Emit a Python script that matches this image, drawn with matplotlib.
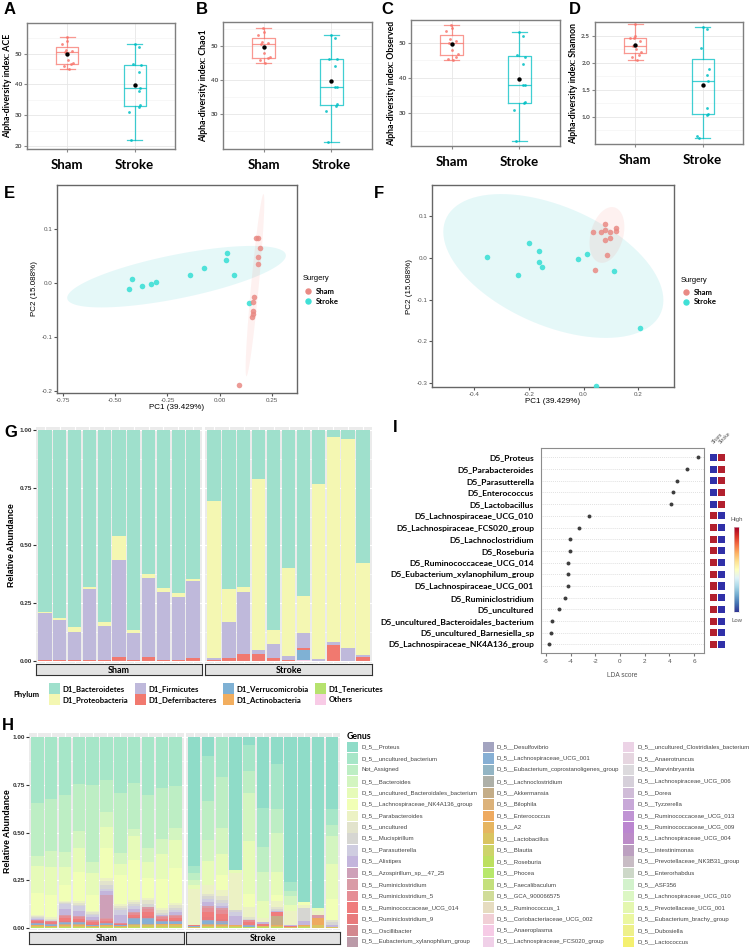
import numpy as np
import matplotlib
matplotlib.use("Agg")
import matplotlib.pyplot as plt
from matplotlib.patches import Polygon, Rectangle

# ---------------------------------------------------------------- data
groups = ["Sham", "Stroke"]

ace_sham = [45.0, 46.0, 46.5, 47.0, 48.0, 50.5, 51.0, 51.2, 53.3, 54.2, 55.3]
ace_stroke = [22.0, 31.0, 32.8, 33.2, 38.0, 39.0, 44.0, 46.2, 46.6, 52.1, 53.2]
chao_sham = [45.0, 45.8, 46.3, 46.8, 48.0, 50.4, 50.7, 51.0, 53.2, 54.1, 55.2]
chao_stroke = [21.8, 31.0, 32.4, 32.9, 38.1, 38.1, 44.1, 46.0, 46.0, 52.1, 53.2]
obs_sham = [45.0, 45.5, 46.0, 46.8, 48.0, 50.0, 50.5, 51.0, 53.2, 54.0, 55.0]
obs_stroke = [22.3, 31.0, 32.8, 33.2, 38.0, 38.0, 44.0, 46.0, 46.5, 52.0, 53.0]
shan_sham = [2.05, 2.10, 2.15, 2.20, 2.25, 2.30, 2.40, 2.45, 2.45, 2.50, 2.71]
shan_stroke = [0.61, 0.64, 1.04, 1.05, 1.16, 1.67, 1.78, 1.88, 2.27, 2.62, 2.66]

# PCoA coordinates (panel E)
e_sham_pc1 = [0.175, 0.183, 0.194, 0.181, 0.181, 0.165, 0.160, 0.160, 0.160, 0.155, 0.093]
e_sham_pc2 = [0.083, 0.083, 0.064, 0.047, 0.035, -0.026, -0.036, -0.053, -0.058, -0.064, -0.189]
e_stroke_pc1 = [-0.433, -0.420, -0.370, -0.330, -0.306, -0.140, -0.077, 0.030, 0.034, 0.070, 0.138]
e_stroke_pc2 = [-0.011, 0.007, -0.006, -0.002, 0.002, 0.014, 0.028, 0.043, 0.055, 0.015, -0.038]
# panel F
f_sham_pc1 = [0.036, 0.062, 0.079, 0.079, 0.097, 0.118, 0.117, 0.080, 0.098, 0.086, 0.041]
f_sham_pc2 = [0.061, 0.061, 0.081, 0.067, 0.061, 0.072, 0.064, 0.043, 0.048, 0.006, -0.029]
f_stroke_pc1 = [-0.354, -0.240, -0.200, -0.162, -0.164, -0.151, -0.020, 0.011, 0.110, 0.205, 0.046]
f_stroke_pc2 = [0.001, -0.042, 0.035, 0.017, -0.011, -0.023, -0.003, 0.008, -0.032, -0.169, -0.307]

# Phylum relative abundance (panel G): 11 Sham then 11 Stroke samples
phyla = ["D1_Bacteroidetes", "D1_Proteobacteria", "D1_Firmicutes", "D1_Deferribacteres",
         "D1_Verrucomicrobia", "D1_Actinobacteria", "D1_Tenericutes", "Others"]
bacteroidetes = [0.788, 0.816, 0.855, 0.679, 0.831, 0.460, 0.867, 0.626, 0.686, 0.708, 0.646,
                 0.306, 0.689, 0.679, 0.212, 0.867, 0.600, 0.720, 0.236, 0.029, 0.040, 0.578]
proteobacteria = [0.007, 0.008, 0.019, 0.012, 0.017, 0.104, 0.015, 0.014, 0.015, 0.015, 0.009,
                  0.681, 0.145, 0.022, 0.742, 0.062, 0.380, 0.162, 0.757, 0.892, 0.907, 0.397]
firmicutes = [0.200, 0.174, 0.122, 0.306, 0.149, 0.419, 0.114, 0.345, 0.295, 0.275, 0.333,
              0.010, 0.153, 0.272, 0.016, 0.058, 0.017, 0.061, 0.007, 0.011, 0.053, 0.010]
deferribacteres = [0.005, 0.002, 0.004, 0.003, 0.003, 0.017, 0.004, 0.015, 0.004, 0.002, 0.012,
                   0.003, 0.013, 0.027, 0.030, 0.013, 0.003, 0.012, 0.000, 0.068, 0.000, 0.015]
verrucomicrobia = [0, 0, 0, 0, 0, 0, 0, 0, 0, 0, 0,
                   0, 0, 0, 0, 0, 0, 0.040, 0, 0, 0, 0]
actinobacteria = [0.0] * 22
tenericutes = [0.0] * 22
others = [0, 0, 0, 0, 0, 0, 0, 0, 0, 0, 0,
          0, 0, 0, 0, 0, 0, 0.005, 0, 0, 0, 0]

# LEfSe (panel I)
lda_taxa = ["D5_Proteus", "D5_Parabacteroides", "D5_Parasutterella", "D5_Enterococcus",
            "D5_Lactobacillus", "D5_Lachnospiraceae_UCG_010", "D5_Lachnospiraceae_FCS020_group",
            "D5_Lachnoclostridium", "D5_Roseburia", "D5_Ruminococcaceae_UCG_014",
            "D5_Eubacterium_xylanophilum_group", "D5_Lachnospiraceae_UCG_001",
            "D5_Ruminiclostridium", "D5_uncultured", "D5_uncultured_Bacteroidales_bacterium",
            "D5_uncultured_Barnesiella_sp", "D5_Lachnospiraceae_NK4A136_group"]
lda_scores = [6.35, 5.46, 4.65, 4.27, 4.16, -2.49, -3.35, -4.03, -4.06, -4.19, -4.19,
              -4.24, -4.46, -4.97, -5.51, -5.57, -5.73]

# Genus relative abundance (panel H)
genera = ["Proteus", "uncultured_bacterium", "Not_Assigned", "Bacteroides",
          "uncultured_Bacteroidales_bacterium", "Lachnospiraceae_NK4A136_group", "Parabacteroides",
          "uncultured", "Mucispirillum", "Parasutterella", "Alistipes", "Azospirillum_sp__47_25",
          "Ruminiclostridium", "Ruminiclostridium_5", "Ruminococcaceae_UCG_014", "Ruminiclostridium_9",
          "Oscillibacter", "Eubacterium_xylanophilum_group",
          "Desulfovibrio", "Lachnospiraceae_UCG_001", "Eubacterium_coprostanoligenes_group",
          "Lachnoclostridium", "Akkermansia", "Bilophila", "Enterococcus", "A2", "Lactobacillus",
          "Blautia", "Roseburia", "Phocea", "Faecalibaculum", "GCA_900066575", "Ruminococcus_1",
          "Coriobacteriaceae_UCG_002", "Anaeroplasma", "Lachnospiraceae_FCS020_group",
          "uncultured_Clostridiales_bacterium", "Anaerotruncus", "Marvinbryantia",
          "Lachnospiraceae_UCG_006", "Dorea", "Tyzzerella", "Ruminococcaceae_UCG_013",
          "Ruminococcaceae_UCG_009", "Lachnospiraceae_UCG_004", "Intestinimonas",
          "Prevotellaceae_NK3B31_group", "Enterorhabdus", "ASF356", "Lachnospiraceae_UCG_010",
          "Prevotellaceae_UCG_001", "Eubacterium_brachy_group", "Dubosiella", "Lactococcus"]

g_proteus = [0] * 11 + [0.677, 0.101, 0.0, 0.695, 0.040, 0.372, 0.141, 0.759, 0.860, 0.892, 0.377]
g_uncult_bacterium = [0.346, 0.325, 0.302, 0.246, 0.250, 0.223, 0.293, 0.241, 0.302, 0.267, 0.255,
                      0.035, 0.232, 0.211, 0.0, 0.136, 0.206, 0.236, 0.046, 0.0, 0.0, 0.082]
g_not_assigned = [0.275, 0.274, 0.302, 0.244, 0.406, 0.170, 0.314, 0.241, 0.279, 0.267, 0.221,
                  0.035, 0.205, 0.265, 0.0, 0.117, 0.131, 0.126, 0.029, 0.0, 0.0, 0.056]
g_bacteroides = [0.053, 0.083, 0.078, 0.091, 0.053, 0.078, 0.060, 0.038, 0.075, 0.079, 0.062,
                 0.026, 0.113, 0.137, 0.0, 0.250, 0.148, 0.204, 0.044, 0.0, 0.0, 0.150]
g_uncult_bacteroidales = [0.143, 0.143, 0.090, 0.128, 0.116, 0.110, 0.054, 0.122, 0.082, 0.130, 0.148,
                          0.023, 0.122, 0.111, 0.017, 0.277, 0.091, 0.118, 0.035, 0.0, 0.017, 0.183]
g_nk4a136 = [0.113, 0.119, 0.088, 0.148, 0.084, 0.157, 0.152, 0.213, 0.105, 0.152, 0.183,
             0.0, 0.0, 0.079, 0.0, 0.067, 0.0, 0.035, 0.0, 0.017, 0.0, 0.108]
g_parabacteroides = [0.008, 0.008, 0.006, 0.012, 0.008, 0.017, 0.012, 0.009, 0.012, 0.012, 0.012,
                     0.187, 0.047, 0.031, 0.192, 0.052, 0.023, 0.030, 0.073, 0.017, 0.021, 0.0]
g_uncultured = [0.006, 0.006, 0.005, 0.010, 0.008, 0.020, 0.010, 0.012, 0.020, 0.013, 0.013,
                0, 0.013, 0.018, 0, 0.010, 0, 0.010, 0, 0, 0, 0.013]
g_mucispirillum = [0.004, 0.004, 0.003, 0.008, 0.005, 0.020, 0.009, 0.011, 0.015, 0.010, 0.010,
                   0, 0.013, 0.017, 0.010, 0.007, 0, 0.009, 0, 0.070, 0, 0.013]
g_parasutterella = [0.004, 0.0, 0.024, 0.022, 0.010, 0.012, 0.030, 0.012, 0.0, 0.004, 0.010,
                    0, 0.020, 0.013, 0.025, 0, 0, 0, 0, 0, 0, 0]
g_alistipes = [0.004, 0.0, 0.035, 0.030, 0.016, 0.018, 0.037, 0.018, 0.0, 0.005, 0.016,
               0, 0.021, 0.013, 0.044, 0, 0.010, 0.009, 0.004, 0.017, 0, 0.010]
g_azospirillum = [0, 0, 0, 0, 0, 0.122, 0, 0, 0, 0, 0,
                  0, 0, 0, 0, 0, 0, 0, 0, 0, 0, 0]
g_ruminiclostridium = [0.003, 0.003, 0.005, 0.004, 0.004, 0.006, 0.002, 0.005, 0.008, 0.004, 0.005,
                       0, 0.010, 0.010, 0, 0, 0, 0, 0, 0, 0.014, 0]
g_ruminiclostridium_5 = [0.005, 0.005, 0.010, 0.009, 0.007, 0.007, 0.003, 0.009, 0.017, 0.007, 0.010,
                         0, 0.020, 0.020, 0, 0.012, 0, 0, 0, 0, 0, 0]
g_rumino_ucg014 = [0.006, 0.006, 0.014, 0.010, 0.009, 0.008, 0.004, 0.010, 0.020, 0.009, 0.012,
                   0.006, 0.025, 0.025, 0, 0.014, 0.011, 0.021, 0.006, 0, 0, 0]
g_ruminiclostridium_9 = [0.004, 0.004, 0.008, 0.008, 0.006, 0.005, 0.003, 0.007, 0.013, 0.006, 0.008,
                         0, 0.015, 0.015, 0, 0, 0, 0, 0, 0, 0, 0]
g_lachno_ucg001 = [0.005, 0.004, 0.006, 0.006, 0.003, 0.005, 0.003, 0.026, 0.026, 0.007, 0.007,
                   0.004, 0.012, 0.010, 0, 0.005, 0, 0, 0, 0, 0, 0]
g_desulfovibrio = [0.004, 0.003, 0.004, 0.004, 0.002, 0.004, 0.002, 0.005, 0.005, 0.005, 0.005,
                   0, 0.008, 0.006, 0, 0.004, 0, 0, 0, 0, 0, 0]
g_akkermansia = [0.003, 0.002, 0.003, 0.003, 0.002, 0.003, 0.002, 0.003, 0.003, 0.004, 0.004,
                 0, 0.006, 0.005, 0, 0, 0, 0.044, 0, 0, 0, 0]
g_enterococcus = [0.004, 0.003, 0.004, 0.004, 0.002, 0.003, 0.002, 0.004, 0.004, 0.005, 0.005,
                  0, 0.005, 0.004, 0.006, 0, 0, 0.005, 0, 0.006, 0.038, 0]
g_lactobacillus = [0.005, 0.004, 0.007, 0.006, 0.004, 0.005, 0.004, 0.007, 0.007, 0.007, 0.007,
                   0.004, 0.007, 0.005, 0.006, 0.004, 0.005, 0.006, 0.004, 0.006, 0.017, 0.007]
g_roseburia = [0.005, 0.004, 0.006, 0.007, 0.004, 0.006, 0.004, 0.007, 0.007, 0.007, 0.007,
               0.003, 0.006, 0.005, 0.005, 0.004, 0.004, 0.006, 0, 0.006, 0, 0]

genus_colors = ["#8fdcc8", "#a6e6c8", "#bdeec4", "#d3f5c0", "#e6fbb8", "#f1ffb6", "#ecf2c4",
                "#e2e3cc", "#d6d6d2", "#cfcde0", "#c3b5dc", "#cea0b8", "#d99ba6", "#e58d95",
                "#ef7c7c", "#e87a7c", "#d3888f", "#bb9aa8",
                "#a3a4c0", "#86afd4", "#93b5c4", "#aeb0a8", "#c4ad88", "#dcb27a", "#eeaa60",
                "#e6b560", "#d9c460", "#cdd46a", "#bde060", "#b8e86c", "#c4e07c", "#d0dc98",
                "#e6dcc0", "#f1cfd6", "#f6cbe6", "#f0d0e8",
                "#ecd3e6", "#e6d6e0", "#dcdadd", "#d6d0da", "#d0bcd8", "#c8a8d8", "#c094d4",
                "#bb86d0", "#bc8cc8", "#bca0c0", "#c8bcc4", "#cdd8c8", "#d3f2cc", "#dcf7c4",
                "#e4f7b0", "#ebf7a0", "#eef08a", "#f4f070"]

phylum_colors = ["#9fe0cc", "#f4f7b2", "#bfb9db", "#f1796f", "#7fb1d4", "#f2ae5f", "#b6e26e", "#f8cbe6"]

# ---------------------------------------------------------------- helpers
W, H = 750, 947
fig = plt.figure(figsize=(7.5, 9.47), dpi=100)
SANS = ["Liberation Sans", "DejaVu Sans"]
BOLD = ["Lato", "DejaVu Sans"]
C_SHAM, C_STROKE = "#F8766D", "#00BFC4"


def px_axes(l, t, r, b):
    return fig.add_axes([l / W, 1 - b / H, (r - l) / W, (b - t) / H])


def ftext(x, y, s, **kw):
    fig.text(x / W, 1 - y / H, s, **kw)


def letter(x, y, s):
    ftext(x, y, s, fontsize=12, fontweight="bold", family=SANS, va="top", ha="left")


# ---------------------------------------------------------------- A-D
jit_a = [0.02, -0.05, 0.06, 0.09, 0.01, -0.04, 0.07, -0.02, -0.08, 0.0, -0.01]
jit_b = [-0.05, -0.08, 0.07, 0.08, 0.06, 0.08, 0.06, 0.09, -0.03, 0.06, 0.0]


def alpha_panel(box, sham, stroke, ylabel, ylim, yticks, ytl, minor):
    ax = px_axes(*box)
    ax.set_xlim(0.4, 2.6)
    ax.set_ylim(*ylim)
    ax.set_yticks(yticks)
    ax.set_yticks(minor, minor=True)
    ax.set_yticklabels(ytl, fontsize=4.6, fontweight="bold", color="#4d4d4d", family=BOLD)
    ax.set_xticks([1, 2])
    ax.set_xticklabels(groups, fontsize=9.5, fontweight="bold", family=BOLD)
    ax.tick_params(axis="x", length=2, color="#888888", pad=5)
    ax.tick_params(axis="y", length=2, color="#888888", pad=1.5)
    ax.tick_params(axis="y", which="minor", length=0)
    ax.grid(True, which="major", color="#e6e6e6", lw=0.6)
    ax.grid(True, which="minor", axis="y", color="#f2f2f2", lw=0.4)
    ax.set_axisbelow(True)
    for s in ax.spines.values():
        s.set_color("#7f7f7f")
        s.set_linewidth(1.0)
    for i, (vals, col, jit) in enumerate([(sham, C_SHAM, jit_a), (stroke, C_STROKE, jit_b)]):
        props = dict(color=col, lw=0.9, alpha=0.75)
        ax.boxplot(vals, positions=[i + 1], widths=0.33, whis=1.5, showfliers=False,
                   manage_ticks=False, boxprops=props, whiskerprops=props,
                   capprops=props, medianprops=props, capwidths=0.22)
        ax.scatter(np.full(len(vals), i + 1.0) + np.array(jit), vals, s=4, color=col,
                   alpha=0.85, lw=0, zorder=3)
        ax.scatter([i + 1], [np.mean(vals)], s=10, color="black", lw=0, zorder=4)
    ax.set_ylabel(ylabel, fontsize=6.3, fontweight="bold", family=BOLD, labelpad=2)
    return ax


alpha_panel((27, 23, 175, 149), ace_sham, ace_stroke, "Alpha-diversity index: ACE",
            (19.0, 60.0), [20, 30, 40, 50], ["20", "30", "40", "50"], [25, 35, 45, 55])
alpha_panel((223, 22, 372, 149), chao_sham, chao_stroke, "Alpha-diversity index: Chao1",
            (19.9, 56.9), [30, 40, 50], ["30", "40", "50"], [25, 35, 45, 55])
alpha_panel((411, 20, 560, 146), obs_sham, obs_stroke, "Alpha-diversity index: Observed",
            (20.75, 56.4), [30, 40, 50], ["30", "40", "50"], [25, 35, 45, 55])
alpha_panel((595, 22, 743, 144), shan_sham, shan_stroke, "Alpha-diversity index: Shannon",
            (0.50, 2.75), [1.0, 1.5, 2.0, 2.5], ["1.0", "1.5", "2.0", "2.5"], [0.75, 1.25, 1.75, 2.25])
letter(4, 2, "A")
letter(196, 2, "B")
letter(381, 2, "C")
letter(569, 2, "D")


# ---------------------------------------------------------------- E, F
def cov_trob(X, nu=5, maxit=25, tol=0.01):
    n, p = X.shape
    loc = X.mean(0)
    w = np.ones(n)
    Xc = X - loc
    for _ in range(maxit):
        w0 = w
        Xc = X - loc
        _, d, vt = np.linalg.svd(np.sqrt(w / w.sum())[:, None] * Xc, full_matrices=False)
        wX = Xc @ vt.T @ np.diag(1 / d)
        Q = (wX ** 2).sum(1)
        w = (nu + p) / (nu + Q)
        loc = (w[:, None] * X).sum(0) / w.sum()
        if np.all(np.abs(w - w0) < tol):
            break
    cov = (np.sqrt(w)[:, None] * Xc).T @ (np.sqrt(w)[:, None] * Xc) / n
    return loc, cov


def ellipse_pts(x, y, fq=4.102821):
    X = np.column_stack([x, y])
    loc, cov = cov_trob(X)
    L = np.linalg.cholesky(cov)
    r = np.sqrt(2 * fq)
    a = np.linspace(0, 2 * np.pi, 101)
    uc = np.column_stack([np.cos(a), np.sin(a)])
    return loc + r * uc @ L.T


def pca_panel(box, sx, sy, tx, ty, xlim, ylim, xticks, xtl, yticks, ytl, leg):
    ax = px_axes(*box)
    ax.set_xlim(*xlim)
    ax.set_ylim(*ylim)
    for (x, y, c) in [(tx, ty, C_STROKE), (sx, sy, C_SHAM)]:
        ax.add_patch(Polygon(ellipse_pts(x, y), closed=True, facecolor=c, alpha=0.1, lw=0))
    ax.scatter(tx, ty, s=16, color="#3fe0d6", alpha=0.9, lw=0, zorder=3)
    ax.scatter(sx, sy, s=16, color="#e98a84", alpha=0.85, lw=0, zorder=3)
    ax.set_xticks(xticks)
    ax.set_xticklabels(xtl, fontsize=4.5, color="#555555", family=SANS)
    ax.set_yticks(yticks)
    ax.set_yticklabels(ytl, fontsize=4.5, color="#555555", family=SANS)
    ax.tick_params(length=2, color="#555555", pad=1.5)
    for s in ax.spines.values():
        s.set_color("#666666")
        s.set_linewidth(1.0)
    ax.set_xlabel("PC1 (39.429%)", fontsize=5.8, family=SANS, labelpad=1)
    ax.set_ylabel("PC2 (15.088%)", fontsize=5.8, family=SANS, labelpad=2)
    lx, ly = leg
    ftext(lx, ly, "Surgery", fontsize=5.5, family=SANS, va="center")
    for k, (g, c) in enumerate([("Sham", "#e98a84"), ("Stroke", "#3fe0d6")]):
        yy = ly + 12.5 + k * 9.5
        fig.add_artist(plt.Line2D([(lx + 5) / W], [1 - yy / H], marker="o", ms=3.6,
                                  color=c, lw=0, transform=fig.transFigure))
        ftext(lx + 13, yy, g, fontsize=5.6, fontweight="bold", family=BOLD, va="center")


pca_panel((57, 185, 297, 393), e_sham_pc1, e_sham_pc2, e_stroke_pc1, e_stroke_pc2,
          (-0.779, 0.37), (-0.204, 0.181), [-0.75, -0.5, -0.25, 0.0, 0.25],
          ["-0.75", "-0.50", "-0.25", "0.00", "0.25"], [-0.2, -0.1, 0.0, 0.1],
          ["-0.2", "-0.1", "0.0", "0.1"], (303, 279))
pca_panel((432, 185, 674, 387), f_sham_pc1, f_sham_pc2, f_stroke_pc1, f_stroke_pc2,
          (-0.553, 0.33), (-0.309, 0.174), [-0.4, -0.2, 0.0, 0.2],
          ["-0.4", "-0.2", "0.0", "0.2"], [-0.3, -0.2, -0.1, 0.0, 0.1],
          ["-0.3", "-0.2", "-0.1", "0.0", "0.1"], (681, 280))
letter(4, 186, "E")
letter(374, 186, "F")


# ---------------------------------------------------------------- stacked bars helper
def facet_bars(boxes, strip_y, series, colors, ylim):
    n = 11
    for gi, (box, gname) in enumerate(zip(boxes, groups)):
        ax = px_axes(*box)
        ax.set_facecolor("#ebebeb")
        ax.set_xlim(0.4, n + 0.6)
        ax.set_ylim(*ylim)
        ax.set_yticks([0, 0.25, 0.5, 0.75, 1.0])
        ax.set_yticks([0.125, 0.375, 0.625, 0.875], minor=True)
        ax.grid(True, which="major", color="white", lw=0.8)
        ax.grid(True, which="minor", axis="y", color="white", lw=0.4)
        ax.set_axisbelow(True)
        ax.set_xticks(np.arange(1, n + 1))
        ax.set_xticklabels([])
        ax.tick_params(axis="x", length=0)
        for s in ax.spines.values():
            s.set_visible(False)
        idx = slice(gi * n, (gi + 1) * n)
        mat = np.array([np.asarray(v, float)[idx] for v in series])
        mat = mat / mat.sum(0, keepdims=True)
        bottom = np.zeros(n)
        xs = np.arange(1, n + 1)
        for k in range(len(series) - 1, -1, -1):
            if mat[k].sum() == 0:
                continue
            ax.bar(xs, mat[k], bottom=bottom, width=0.9, color=colors[k], lw=0)
            bottom += mat[k]
        if gi == 0:
            ax.set_yticklabels(["0.00", "0.25", "0.50", "0.75", "1.00"], fontsize=4.6,
                               fontweight="bold", family=SANS, color="#333333")
            ax.tick_params(axis="y", length=2, color="#333333", pad=1)
            ax.tick_params(axis="y", which="minor", length=0)
        else:
            ax.set_yticklabels([])
            ax.tick_params(axis="y", length=0, which="both")
        sy0, sy1 = strip_y
        sax = px_axes(box[0], sy0, box[2], sy1)
        sax.set_xlim(0, 1)
        sax.set_ylim(0, 1)
        sax.set_xticks([])
        sax.set_yticks([])
        sax.set_facecolor("#e3e3e3")
        for s in sax.spines.values():
            s.set_color("#333333")
            s.set_linewidth(0.8)
        sax.text(0.5, 0.45, gname, ha="center", va="center", fontsize=6.5,
                 fontweight="bold", family=BOLD)


# ---------------------------------------------------------------- G
phylum_series = [bacteroidetes, proteobacteria, firmicutes, deferribacteres,
                 verrucomicrobia, actinobacteria, tenericutes, others]
facet_bars([(36, 427, 202, 663), (205, 427, 372, 663)], (664, 675), phylum_series,
           phylum_colors, (-0.01, 1.013))
ftext(12, 545, "Relative Abundance", rotation=90, fontsize=6.3, fontweight="bold",
      family=SANS, ha="center", va="center")
letter(4, 425, "G")

ftext(13, 694, "Phylum", fontsize=5.6, fontweight="bold", family=BOLD, va="center")
col_x = [49, 135, 223, 315]
for k, (name, c) in enumerate(zip(phyla, phylum_colors)):
    col, row = k // 2, k % 2
    x0 = col_x[col]
    y0 = 683 + row * 11
    fig.add_artist(Rectangle((x0 / W, 1 - (y0 + 10.5) / H), 11 / W, 10.5 / H,
                             transform=fig.transFigure, facecolor=c, lw=0))
    ftext(x0 + 13.5, y0 + 5.3, name, fontsize=5.6, fontweight="bold", family=BOLD, va="center")

# ---------------------------------------------------------------- I
ax = px_axes(541, 448, 704, 653)
ny = len(lda_scores)
yy = np.arange(ny)
ax.set_ylim(ny - 0.27, -0.8)
ax.set_xlim(-6.4, 6.8)
for v in yy:
    ax.axhline(v, color="#cfcfcf", lw=0.5, ls=(0, (1.2, 1.6)), zorder=1)
ax.scatter(lda_scores, yy, s=8, color="#3d3d3d", lw=0, zorder=3)
ax.set_yticks(yy)
ax.set_yticklabels(lda_taxa, fontsize=6.1, fontweight="bold", family=BOLD)
ax.tick_params(axis="y", length=0, pad=5)
ax.set_xticks([-6, -4, -2, 0, 2, 4, 6])
ax.set_xticklabels(["-6", "-4", "-2", "0", "2", "4", "6"], fontsize=4.6, color="#555555", family=SANS)
ax.tick_params(axis="x", length=2, color="#777777", pad=2)
for s in ax.spines.values():
    s.set_color("#8c8c8c")
    s.set_linewidth(0.8)
ax.set_xlabel("LDA score", fontsize=4.8, color="#555555", family=SANS, labelpad=6)

hax = px_axes(709, 448, 726, 653)
hax.set_ylim(ny - 0.27, -0.8)
hax.set_xlim(0, 2)
hax.axis("off")
hi_c, lo_c = "#b2202e", "#3030a8"
for i, sc in enumerate(lda_scores):
    cols = [lo_c, hi_c] if sc > 0 else [hi_c, lo_c]
    for j in range(2):
        hax.add_patch(Rectangle((j + 0.06, i - 0.3), 0.88, 0.6, facecolor=cols[j], lw=0))
ftext(711, 445, "Sham", rotation=45, fontsize=3.6, color="#555555", family=SANS, ha="left", va="bottom")
ftext(718, 445, "Stroke", rotation=45, fontsize=3.6, color="#555555", family=SANS, ha="left", va="bottom")

cax = px_axes(734, 527, 739, 612)
cax.imshow(np.linspace(1, 0, 200)[:, None], cmap="RdYlBu_r", aspect="auto")
cax.set_xticks([])
cax.set_yticks([])
for s in cax.spines.values():
    s.set_color("#dddddd")
    s.set_linewidth(0.4)
ftext(737, 519, "High", fontsize=4.3, color="#555555", family=SANS, ha="center", va="center")
ftext(737, 621, "Low", fontsize=4.3, color="#555555", family=SANS, ha="center", va="center")
letter(393, 420, "I")

# ---------------------------------------------------------------- H
genus_values = {
    "Proteus": g_proteus, "uncultured_bacterium": g_uncult_bacterium,
    "Not_Assigned": g_not_assigned, "Bacteroides": g_bacteroides,
    "uncultured_Bacteroidales_bacterium": g_uncult_bacteroidales,
    "Lachnospiraceae_NK4A136_group": g_nk4a136, "Parabacteroides": g_parabacteroides,
    "uncultured": g_uncultured, "Mucispirillum": g_mucispirillum,
    "Parasutterella": g_parasutterella, "Alistipes": g_alistipes,
    "Azospirillum_sp__47_25": g_azospirillum, "Ruminiclostridium": g_ruminiclostridium,
    "Ruminiclostridium_5": g_ruminiclostridium_5, "Ruminococcaceae_UCG_014": g_rumino_ucg014,
    "Ruminiclostridium_9": g_ruminiclostridium_9, "Lachnospiraceae_UCG_001": g_lachno_ucg001,
    "Desulfovibrio": g_desulfovibrio, "Akkermansia": g_akkermansia,
    "Enterococcus": g_enterococcus, "Lactobacillus": g_lactobacillus, "Roseburia": g_roseburia,
}
genus_series = [genus_values.get(g, [0.0] * 22) for g in genera]
facet_bars([(29, 733, 184, 930), (186, 733, 340, 930)], (932, 944), genus_series,
           genus_colors, (-0.01, 1.021))
ftext(8, 831, "Relative Abundance", rotation=90, fontsize=6.3, fontweight="bold",
      family=SANS, ha="center", va="center")
letter(2, 718, "H")

ftext(347, 736, "Genus", fontsize=6.3, fontweight="bold", family=BOLD, va="center")
leg_cols = [(347, 361), (483, 497), (623, 637)]
for k, (g, c) in enumerate(zip(genera, genus_colors)):
    col, row = k // 18, k % 18
    sx, tx = leg_cols[col]
    yc = 747 + row * 11.47
    fig.add_artist(Rectangle((sx / W, 1 - (yc + 5.3) / H), 10.5 / W, 10.6 / H,
                             transform=fig.transFigure, facecolor=c, lw=0))
    label = g if g == "Not_Assigned" else "D_5__" + g
    ftext(tx, yc, label, fontsize=4.3, color="#444444", family=SANS, va="center")

fig.savefig("out.png", dpi=100, facecolor="white")
